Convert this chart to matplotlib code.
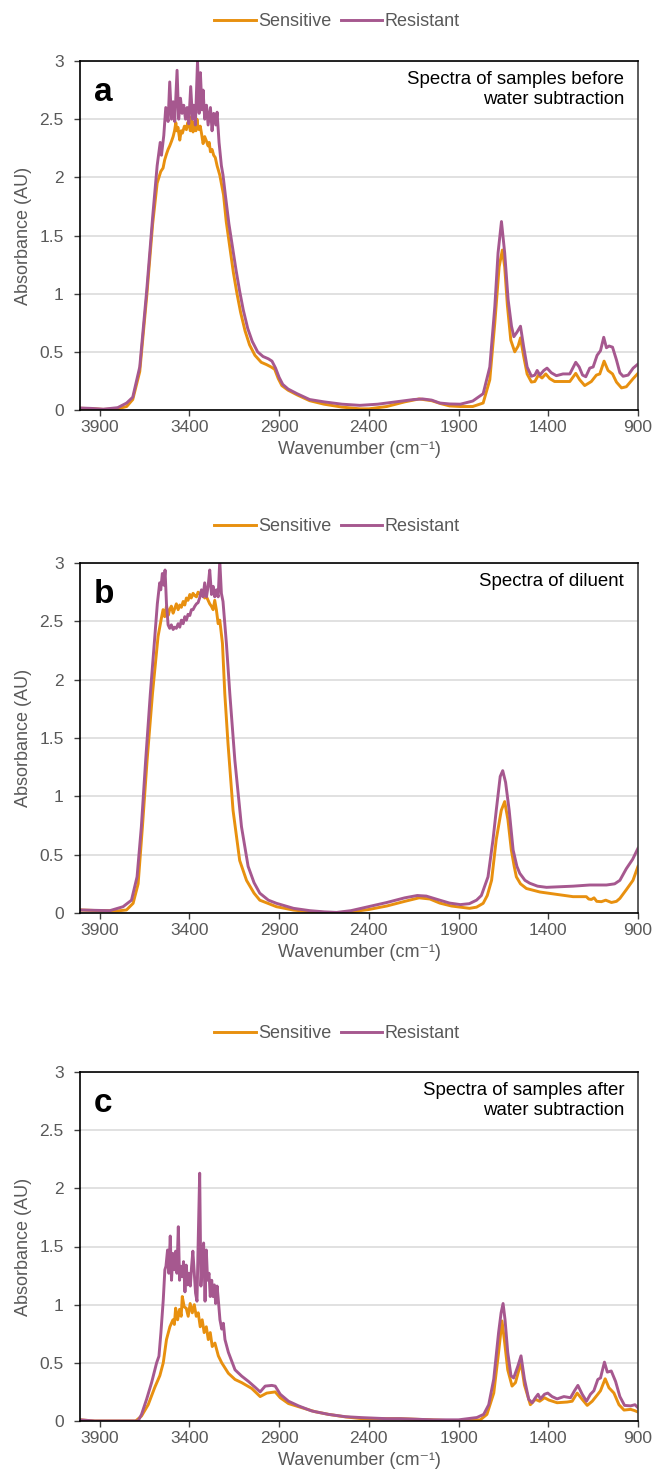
import matplotlib
matplotlib.use("Agg")
import matplotlib.pyplot as plt
from matplotlib.ticker import FuncFormatter

plt.rcParams['font.family'] = ['Liberation Sans', 'DejaVu Sans']

# ---------------------------------------------------------------------------
# Data: (wavenumber cm-1, absorbance AU)
# ---------------------------------------------------------------------------

# panel a - samples before water subtraction
a_sensitive = [
    (4010, 0.015), (3950, 0.012), (3880, 0.005), (3800, 0.01), (3750, 0.03),
    (3716, 0.09), (3677, 0.33), (3638, 0.98), (3605, 1.6), (3580, 1.95),
    (3560, 2.05), (3547, 2.08), (3538, 2.15), (3528, 2.2), (3519, 2.24),
    (3510, 2.27), (3500, 2.31), (3491, 2.35), (3483, 2.4), (3476, 2.47),
    (3470, 2.4), (3464, 2.43), (3454, 2.32), (3446, 2.4), (3439, 2.38),
    (3428, 2.44), (3417, 2.41), (3410, 2.47), (3402, 2.45), (3395, 2.4),
    (3389, 2.52), (3380, 2.39), (3375, 2.47), (3370, 2.45), (3364, 2.4),
    (3358, 2.5), (3352, 2.42), (3346, 2.41), (3340, 2.44), (3333, 2.38),
    (3324, 2.29), (3315, 2.35), (3305, 2.31), (3296, 2.27), (3290, 2.3),
    (3283, 2.22), (3274, 2.24), (3265, 2.19), (3256, 2.17), (3246, 2.1),
    (3231, 2.02), (3210, 1.85), (3195, 1.62), (3175, 1.4), (3155, 1.18),
    (3135, 1.0), (3115, 0.84), (3090, 0.68), (3065, 0.56), (3035, 0.47),
    (3000, 0.41), (2970, 0.39), (2945, 0.37), (2925, 0.35), (2905, 0.27),
    (2885, 0.21), (2850, 0.17), (2800, 0.13), (2730, 0.08), (2650, 0.05),
    (2550, 0.025), (2450, 0.01), (2400, 0.01), (2300, 0.03), (2200, 0.07),
    (2120, 0.095), (2050, 0.08), (2000, 0.055), (1950, 0.035), (1890, 0.03),
    (1821, 0.03), (1763, 0.06), (1726, 0.26), (1698, 0.75), (1674, 1.23),
    (1656, 1.375), (1643, 1.23), (1628, 0.9), (1609, 0.6), (1587, 0.5),
    (1568, 0.55), (1555, 0.62), (1537, 0.46), (1518, 0.31), (1494, 0.24),
    (1475, 0.245), (1455, 0.3), (1435, 0.275), (1414, 0.31), (1392, 0.27),
    (1365, 0.245), (1318, 0.245), (1280, 0.245), (1247, 0.315), (1225, 0.26),
    (1197, 0.21), (1160, 0.245), (1132, 0.3), (1113, 0.31), (1089, 0.42),
    (1067, 0.34), (1042, 0.31), (1020, 0.24), (992, 0.19), (965, 0.2),
    (927, 0.27), (900, 0.315),
]

a_resistant = [
    (4010, 0.017), (3950, 0.014), (3880, 0.007), (3800, 0.02), (3750, 0.06),
    (3716, 0.11), (3677, 0.37), (3638, 1.03), (3605, 1.66), (3580, 2.1),
    (3563, 2.3), (3556, 2.19), (3543, 2.36), (3532, 2.6), (3519, 2.48),
    (3510, 2.82), (3500, 2.5), (3491, 2.65), (3482, 2.48), (3469, 2.92),
    (3460, 2.5), (3450, 2.68), (3441, 2.55), (3432, 2.62), (3422, 2.5),
    (3413, 2.6), (3404, 2.46), (3393, 2.78), (3383, 2.5), (3376, 2.62),
    (3367, 2.45), (3355, 3.0), (3346, 2.55), (3339, 2.9), (3330, 2.58),
    (3324, 2.75), (3315, 2.5), (3305, 2.62), (3296, 2.45), (3283, 2.6),
    (3274, 2.4), (3265, 2.55), (3253, 2.45), (3246, 2.56), (3235, 2.3),
    (3222, 2.1), (3213, 2.02), (3200, 1.85), (3180, 1.6), (3160, 1.4),
    (3140, 1.2), (3120, 1.02), (3100, 0.86), (3075, 0.7), (3050, 0.59),
    (3020, 0.5), (2990, 0.46), (2960, 0.44), (2940, 0.42), (2920, 0.36),
    (2900, 0.28), (2880, 0.22), (2850, 0.18), (2800, 0.14), (2730, 0.09),
    (2650, 0.07), (2550, 0.05), (2450, 0.04), (2350, 0.05), (2250, 0.07),
    (2150, 0.09), (2100, 0.095), (2050, 0.085), (2005, 0.06), (1950, 0.052),
    (1890, 0.05), (1821, 0.077), (1763, 0.14), (1726, 0.37), (1698, 0.89),
    (1680, 1.35), (1661, 1.62), (1643, 1.35), (1624, 0.95), (1605, 0.72),
    (1592, 0.63), (1574, 0.67), (1555, 0.72), (1537, 0.54), (1518, 0.37),
    (1494, 0.29), (1475, 0.3), (1462, 0.34), (1447, 0.3), (1425, 0.34),
    (1407, 0.36), (1383, 0.32), (1355, 0.295), (1318, 0.31), (1280, 0.31),
    (1247, 0.41), (1228, 0.37), (1209, 0.3), (1191, 0.286), (1169, 0.36),
    (1150, 0.37), (1128, 0.47), (1109, 0.51), (1091, 0.625), (1076, 0.535),
    (1061, 0.55), (1042, 0.54), (1020, 0.43), (1001, 0.32), (983, 0.29),
    (955, 0.3), (927, 0.36), (900, 0.395),
]

# panel b - diluent
b_sensitive = [
    (4010, 0.026), (3900, 0.02), (3800, 0.018), (3751, 0.026), (3714, 0.083),
    (3686, 0.25), (3662, 0.74), (3636, 1.31), (3606, 1.88), (3575, 2.37),
    (3556, 2.53), (3547, 2.6), (3538, 2.54), (3528, 2.63), (3519, 2.55),
    (3510, 2.6), (3501, 2.63), (3491, 2.57), (3482, 2.61), (3473, 2.65),
    (3463, 2.6), (3454, 2.64), (3445, 2.62), (3435, 2.67), (3426, 2.64),
    (3417, 2.7), (3408, 2.68), (3398, 2.73), (3390, 2.7), (3380, 2.74),
    (3370, 2.72), (3361, 2.71), (3352, 2.75), (3343, 2.74), (3334, 2.72),
    (3324, 2.75), (3315, 2.7), (3305, 2.71), (3296, 2.68), (3287, 2.65),
    (3278, 2.63), (3268, 2.6), (3259, 2.68), (3250, 2.6), (3240, 2.48),
    (3231, 2.51), (3216, 2.31), (3203, 1.88), (3185, 1.45), (3157, 0.88),
    (3120, 0.45), (3082, 0.28), (3040, 0.17), (3008, 0.11), (2915, 0.054),
    (2820, 0.025), (2729, 0.011), (2600, 0.0), (2500, 0.01), (2400, 0.03),
    (2300, 0.06), (2200, 0.1), (2120, 0.13), (2060, 0.12), (2005, 0.085),
    (1940, 0.06), (1890, 0.05), (1839, 0.04), (1800, 0.05), (1763, 0.083),
    (1740, 0.15), (1716, 0.28), (1690, 0.63), (1662, 0.88), (1643, 0.955),
    (1625, 0.8), (1606, 0.54), (1590, 0.4), (1578, 0.31), (1555, 0.25),
    (1522, 0.21), (1447, 0.18), (1355, 0.16), (1262, 0.14), (1188, 0.14),
    (1175, 0.12), (1160, 0.116), (1145, 0.13), (1130, 0.1), (1104, 0.097),
    (1080, 0.11), (1048, 0.09), (1020, 0.1), (1001, 0.125), (965, 0.2),
    (928, 0.28), (900, 0.4),
]

b_resistant = [
    (4010, 0.026), (3900, 0.022), (3844, 0.02), (3770, 0.054), (3723, 0.11),
    (3692, 0.31), (3668, 0.74), (3644, 1.31), (3618, 1.88), (3593, 2.37),
    (3579, 2.65), (3566, 2.83), (3560, 2.77), (3551, 2.91), (3543, 2.81),
    (3536, 2.94), (3528, 2.65), (3519, 2.47), (3510, 2.44), (3501, 2.47),
    (3491, 2.43), (3482, 2.45), (3473, 2.44), (3463, 2.48), (3454, 2.45),
    (3445, 2.51), (3435, 2.48), (3426, 2.54), (3417, 2.51), (3408, 2.56),
    (3398, 2.55), (3389, 2.6), (3380, 2.6), (3370, 2.63), (3361, 2.65),
    (3352, 2.66), (3343, 2.7), (3333, 2.77), (3324, 2.71), (3315, 2.83),
    (3305, 2.71), (3296, 2.8), (3287, 2.94), (3277, 2.73), (3268, 2.8),
    (3259, 2.71), (3250, 2.77), (3240, 2.71), (3231, 3.02), (3222, 2.74),
    (3213, 2.67), (3194, 2.31), (3175, 1.88), (3147, 1.31), (3110, 0.74),
    (3073, 0.4), (3040, 0.26), (3008, 0.17), (2960, 0.11), (2915, 0.083),
    (2820, 0.04), (2729, 0.02), (2650, 0.01), (2580, 0.005), (2500, 0.02),
    (2400, 0.055), (2300, 0.09), (2200, 0.13), (2130, 0.15), (2080, 0.145),
    (2005, 0.11), (1950, 0.085), (1890, 0.072), (1840, 0.08), (1800, 0.11),
    (1773, 0.15), (1736, 0.31), (1708, 0.63), (1690, 0.88), (1668, 1.17),
    (1654, 1.22), (1638, 1.12), (1618, 0.88), (1596, 0.54), (1575, 0.4),
    (1559, 0.34), (1530, 0.28), (1503, 0.255), (1460, 0.23), (1410, 0.22),
    (1262, 0.23), (1169, 0.24), (1076, 0.24), (1030, 0.25), (1001, 0.28),
    (965, 0.38), (930, 0.46), (900, 0.555),
]

# panel c - samples after water subtraction
c_sensitive = [
    (4010, 0.01), (3928, 0.0), (3835, 0.0), (3700, 0.0), (3667, 0.043),
    (3630, 0.14), (3593, 0.29), (3565, 0.39), (3546, 0.5), (3528, 0.7),
    (3509, 0.81), (3492, 0.87), (3484, 0.83), (3477, 0.97), (3466, 0.87),
    (3455, 0.96), (3446, 0.9), (3440, 1.07), (3429, 0.98), (3418, 0.97),
    (3407, 0.9), (3396, 1.01), (3384, 0.93), (3373, 1.0), (3362, 0.9),
    (3351, 0.93), (3340, 0.81), (3329, 0.87), (3318, 0.76), (3306, 0.81),
    (3295, 0.7), (3284, 0.76), (3273, 0.64), (3258, 0.67), (3239, 0.56),
    (3220, 0.5), (3183, 0.41), (3146, 0.357), (3109, 0.33), (3053, 0.28),
    (3006, 0.21), (2969, 0.24), (2922, 0.25), (2894, 0.2), (2848, 0.15),
    (2773, 0.114), (2700, 0.08), (2625, 0.057), (2530, 0.035), (2438, 0.02),
    (2300, 0.02), (2226, 0.02), (2050, 0.01), (1900, 0.0), (1779, 0.01),
    (1742, 0.057), (1704, 0.24), (1677, 0.59), (1658, 0.86), (1645, 0.7),
    (1626, 0.44), (1602, 0.3), (1583, 0.33), (1552, 0.506), (1533, 0.31),
    (1500, 0.14), (1472, 0.186), (1448, 0.17), (1421, 0.2), (1397, 0.18),
    (1351, 0.157), (1295, 0.163), (1267, 0.17), (1239, 0.24), (1211, 0.186),
    (1183, 0.134), (1155, 0.17), (1124, 0.23), (1109, 0.26), (1083, 0.363),
    (1062, 0.286), (1034, 0.24), (1006, 0.14), (978, 0.094), (941, 0.1),
    (920, 0.09), (900, 0.077),
]

c_resistant = [
    (4010, 0.01), (3928, 0.0), (3835, 0.0), (3686, 0.0), (3667, 0.057),
    (3639, 0.186), (3611, 0.33), (3583, 0.5), (3570, 0.557), (3559, 0.76),
    (3546, 1.04), (3537, 1.3), (3531, 1.33), (3522, 1.47), (3515, 1.27),
    (3507, 1.59), (3500, 1.21), (3492, 1.44), (3485, 1.3), (3477, 1.46),
    (3470, 1.27), (3462, 1.67), (3455, 1.21), (3448, 1.33), (3440, 1.24),
    (3433, 1.37), (3425, 1.11), (3418, 1.34), (3410, 1.17), (3403, 1.27),
    (3395, 1.16), (3388, 1.33), (3381, 1.46), (3373, 1.27), (3366, 1.1),
    (3358, 1.03), (3351, 1.56), (3343, 2.13), (3336, 1.16), (3328, 1.41),
    (3321, 1.53), (3313, 1.03), (3306, 1.47), (3299, 1.21), (3291, 1.27),
    (3284, 1.07), (3276, 1.21), (3269, 1.07), (3261, 1.17), (3254, 1.01),
    (3246, 1.16), (3239, 1.04), (3230, 0.87), (3220, 0.79), (3211, 0.84),
    (3202, 0.7), (3183, 0.59), (3146, 0.44), (3109, 0.386), (3071, 0.34),
    (3034, 0.29), (3006, 0.25), (2978, 0.3), (2941, 0.306), (2922, 0.3),
    (2894, 0.23), (2848, 0.17), (2792, 0.13), (2718, 0.086), (2625, 0.057),
    (2531, 0.037), (2438, 0.029), (2300, 0.02), (2226, 0.02), (2040, 0.01),
    (1900, 0.01), (1798, 0.03), (1760, 0.057), (1732, 0.14), (1704, 0.36),
    (1677, 0.76), (1663, 0.93), (1652, 1.01), (1641, 0.87), (1626, 0.59),
    (1608, 0.39), (1593, 0.37), (1570, 0.47), (1552, 0.56), (1533, 0.36),
    (1509, 0.186), (1490, 0.157), (1472, 0.2), (1457, 0.23), (1444, 0.19),
    (1421, 0.23), (1403, 0.24), (1379, 0.21), (1351, 0.19), (1313, 0.21),
    (1276, 0.2), (1254, 0.26), (1235, 0.306), (1211, 0.23), (1187, 0.17),
    (1165, 0.23), (1146, 0.26), (1124, 0.357), (1109, 0.37), (1087, 0.506),
    (1071, 0.42), (1049, 0.43), (1025, 0.34), (1001, 0.21), (975, 0.134),
    (941, 0.13), (917, 0.14), (900, 0.114),
]

panel_letters = ['a', 'b', 'c']
panel_notes = ['Spectra of samples before\nwater subtraction',
               'Spectra of diluent',
               'Spectra of samples after\nwater subtraction']
panel_data = [(a_sensitive, a_resistant),
              (b_sensitive, b_resistant),
              (c_sensitive, c_resistant)]
series_names = ['Sensitive', 'Resistant']
series_colors = ['#E8900F', '#A6588F']

x_ticks = [3900, 3400, 2900, 2400, 1900, 1400, 900]
y_ticks = [0, 0.5, 1, 1.5, 2, 2.5, 3]

# ---------------------------------------------------------------------------
# Figure
# ---------------------------------------------------------------------------

fig = plt.figure(figsize=(6.56, 14.84), dpi=100)

W, H = 656, 1484
ax_left, ax_right = 80, 638
panel_tops = [61, 563, 1072]
panel_bottoms = [410, 913, 1421]
legend_ys = [22, 527, 1034]

grey_text = '#595959'

for i in range(3):
    top, bottom = panel_tops[i], panel_bottoms[i]
    ax = fig.add_axes([ax_left / W, 1 - bottom / H,
                       (ax_right - ax_left) / W, (bottom - top) / H])

    lines = []
    for pts, name, col in zip(panel_data[i], series_names, series_colors):
        wn = [p[0] for p in pts]
        ab = [p[1] for p in pts]
        ln, = ax.plot(wn, ab, color=col, lw=2.1, label=name,
                      solid_joinstyle='round')
        lines.append(ln)

    ax.set_xlim(4010, 900)
    ax.set_ylim(0, 3)
    ax.set_xticks(x_ticks)
    ax.set_yticks(y_ticks)
    ax.yaxis.set_major_formatter(FuncFormatter(lambda v, p: f'{v:g}'))

    ax.yaxis.grid(True, color='#D9D9D9', lw=1.1)
    ax.set_axisbelow(True)

    for side in ['left', 'bottom', 'top']:
        ax.spines[side].set_color('black')
        ax.spines[side].set_linewidth(1.2)
    ax.spines['right'].set_color('#404040')
    ax.spines['right'].set_linewidth(1.2)

    ax.tick_params(axis='x', direction='out', length=4.3, width=1,
                   color='#404040', labelcolor=grey_text, labelsize=12.5,
                   pad=3.2)
    ax.tick_params(axis='y', direction='out', length=4.3, width=1,
                   color='#404040', labelcolor=grey_text, labelsize=12.5,
                   pad=7.5)

    ax.set_xlabel('Wavenumber (cm\u207b\u00b9)', fontsize=13, color=grey_text,
                  labelpad=4)
    ax.set_ylabel('Absorbance (AU)', fontsize=13, color=grey_text, labelpad=5)

    ax.text(0.025, 0.885, panel_letters[i], transform=ax.transAxes,
            fontsize=24, fontweight='bold', va='baseline', ha='left')
    ax.text(0.975, 0.97, panel_notes[i], transform=ax.transAxes,
            fontsize=13.4, va='top', ha='right', linespacing=1.2)

    fig.legend(handles=lines, loc='center', ncol=2, frameon=False,
               bbox_to_anchor=(337 / W, 1 - legend_ys[i] / H),
               fontsize=13, handlelength=2.3, handletextpad=0.15,
               columnspacing=0.5, labelcolor=grey_text)

fig.savefig('out.png', dpi=100)
